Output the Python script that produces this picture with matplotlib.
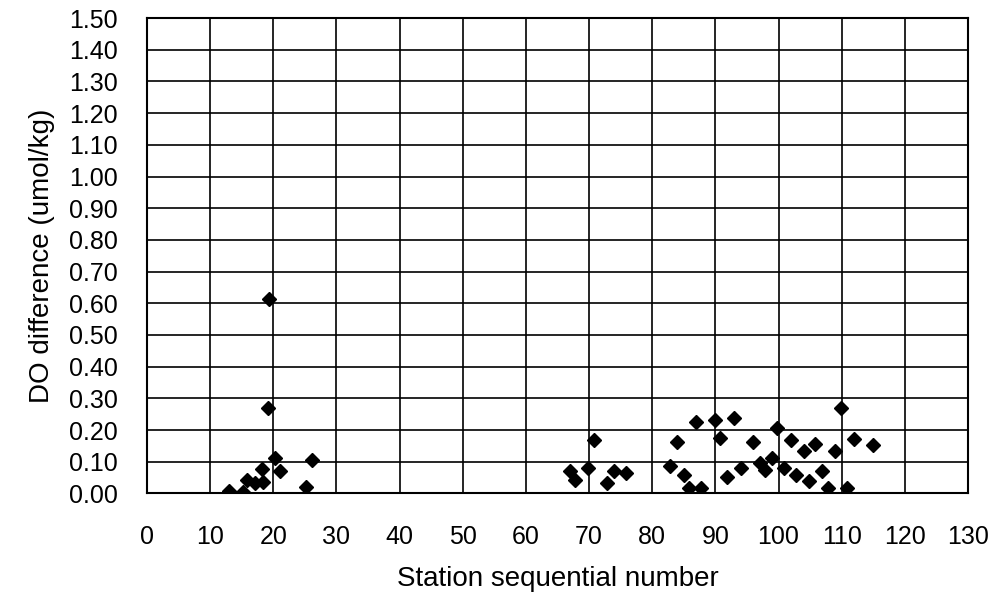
import numpy as np
import matplotlib.pyplot as plt

plt.rcParams['font.family'] = ['Liberation Sans', 'DejaVu Sans']

# station number and DO difference (umol/kg)
station = [13.0, 15.2, 15.9, 17.1, 18.3, 18.2, 19.3, 19.2, 20.2, 21.1, 25.2, 26.1,
           67.0, 67.8, 69.9, 70.8, 72.8, 74.0, 75.8,
           82.8, 84.0, 85.0, 85.8, 86.9, 87.8, 89.9, 90.7, 91.9, 92.9, 94.0,
           95.9, 97.0, 97.9, 99.0, 99.8, 100.8, 102.0, 102.8, 104.0, 104.9,
           105.7, 106.9, 107.9, 108.9, 109.9, 110.8, 111.9, 115.0]
do_diff = [0.009, 0.003, 0.043, 0.032, 0.036, 0.076, 0.614, 0.27, 0.111, 0.07, 0.02, 0.105,
           0.072, 0.043, 0.081, 0.169, 0.034, 0.072, 0.065,
           0.087, 0.163, 0.058, 0.018, 0.226, 0.018, 0.233, 0.174, 0.051, 0.239, 0.081,
           0.163, 0.097, 0.074, 0.111, 0.206, 0.081, 0.169, 0.058, 0.134, 0.040,
           0.157, 0.072, 0.018, 0.134, 0.269, 0.018, 0.173, 0.153]

xticks = np.arange(0, 131, 10)
yticks = np.arange(0, 1.51, 0.1)

fig = plt.figure(figsize=(10.08, 5.93), dpi=100)
ax = fig.add_axes([0.1458, 0.168, 0.8145, 0.8015])

ax.plot(station, do_diff, 'D', color='black', markersize=7.5, zorder=3)

ax.set_xlim(0, 130)
ax.set_ylim(0, 1.5)
ax.set_xticks(xticks)
ax.set_yticks(yticks)
ax.set_yticklabels(['%.2f' % v for v in yticks])
ax.grid(True, color='black', linewidth=1.2)
ax.set_axisbelow(True)
for s in ax.spines.values():
    s.set_linewidth(1.5)
    s.set_color('black')
ax.tick_params(axis='both', length=0, labelsize=18)
ax.tick_params(axis='x', pad=23)
ax.tick_params(axis='y', pad=21)

ax.set_xlabel('Station sequential number', fontsize=20, labelpad=12)
ax.set_ylabel('DO difference (umol/kg)', fontsize=20, labelpad=10)

plt.savefig('out.png', dpi=100)
